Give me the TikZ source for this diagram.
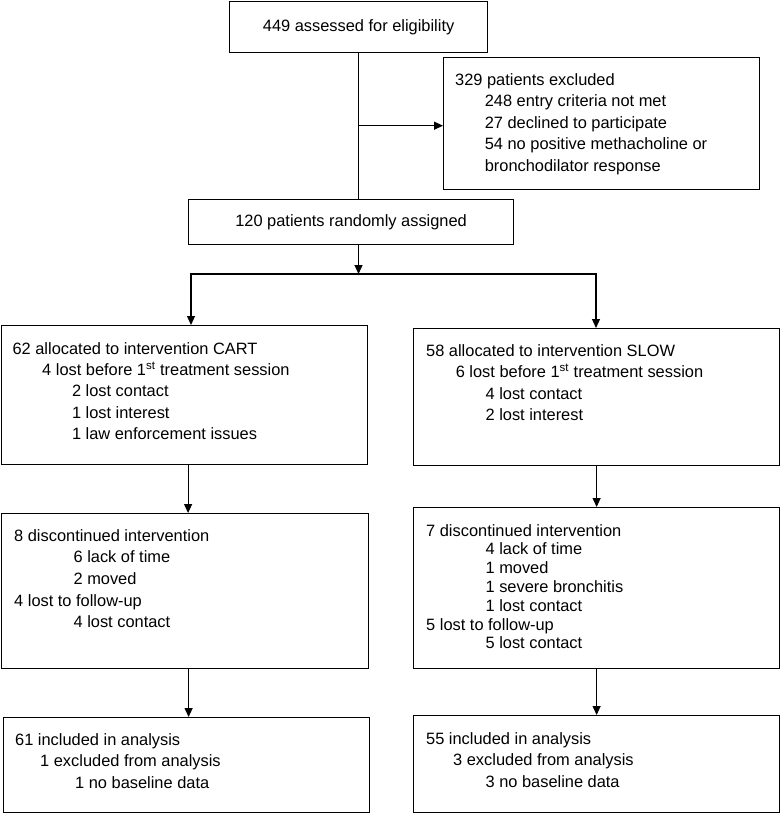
\documentclass[tikz,border=0pt]{standalone}
\usepackage{fontspec}
\setmainfont{Liberation Sans}
\usetikzlibrary{arrows.meta}

\newcommand{\indone}{\hspace*{29.6pt}}
\newcommand{\indtwo}{\hspace*{59.4pt}}

\begin{document}
\begin{tikzpicture}[x=1pt, y=-1pt,
  box/.style={rectangle, draw, line width=1.2pt, inner sep=0pt, anchor=north west,
    font=\fontsize{16.4}{21.5}\selectfont},
  txt/.style={anchor=north west, inner sep=0pt, align=left,
    font=\fontsize{16.4}{21.5}\selectfont},
  arr/.style={line width=1.2pt, -{Triangle[length=9pt, width=8pt]}},
  arrboth/.style={line width=1.2pt, {Triangle[length=9pt, width=8pt]}-{Triangle[length=9pt, width=8pt]}},
  lin/.style={line width=1.2pt}]
  \useasboundingbox (0,0) rectangle (780,813);

  % boxes
  \node[box, minimum width=258pt, minimum height=51pt] (assess) at (229,0.8) {449 assessed for eligibility};
  \node[box, minimum width=316pt, minimum height=132pt] (excl) at (443,57) {};
  \node[box, minimum width=325pt, minimum height=45pt] (rand) at (188,199) {120 patients randomly assigned};
  \node[box, minimum width=366pt, minimum height=139pt] (cart) at (1,325) {};
  \node[box, minimum width=366pt, minimum height=137pt] (slow) at (413,328) {};
  \node[box, minimum width=367pt, minimum height=155pt] (cartdisc) at (1,513) {};
  \node[box, minimum width=366pt, minimum height=161pt] (slowdisc) at (413,507) {};
  \node[box, minimum width=366pt, minimum height=95pt] (cartana) at (3,717) {};
  \node[box, minimum width=366pt, minimum height=97pt] (slowana) at (413,715) {};

  % box texts
  \node[txt] (excltext) at (455,73.3) {329 patients excluded\\
    \indone 248 entry criteria not met\\
    \indone 27 declined to participate\\
    \indone 54 no positive methacholine or\\
    \indone bronchodilator response};
  \node[txt, font=\fontsize{16.4}{21.3}\selectfont] (carttext) at (12.4,342.3) {62 allocated to intervention CART\\
    \indone 4 lost before 1\textsuperscript{st} treatment session\\
    \indtwo 2 lost contact\\
    \indtwo 1 lost interest\\
    \indtwo 1 law enforcement issues};
  \node[txt] (slowtext) at (426,344) {58 allocated to intervention SLOW\\
    \indone 6 lost before 1\textsuperscript{st} treatment session\\
    \indtwo 4 lost contact\\
    \indtwo 2 lost interest};
  \node[txt, font=\fontsize{16.4}{21.7}\selectfont] (cartdisctext) at (14,529) {8 discontinued intervention\\
    \indtwo 6 lack of time\\
    \indtwo 2 moved\\
    4 lost to follow-up\\
    \indtwo 4 lost contact};
  \node[txt, font=\fontsize{16.4}{18.8}\selectfont] (slowdisctext) at (426,524) {7 discontinued intervention\\
    \indtwo 4 lack of time\\
    \indtwo 1 moved\\
    \indtwo 1 severe bronchitis\\
    \indtwo 1 lost contact\\
    5 lost to follow-up\\
    \indtwo 5 lost contact};
  \node[txt, font=\fontsize{16.4}{21.8}\selectfont] (cartanatext) at (15,733) {61 included in analysis\\
    \hspace*{25pt}1 excluded from analysis\\
    \hspace*{60pt}1 no baseline data};
  \node[txt, font=\fontsize{16.4}{21.8}\selectfont] (slowanatext) at (426,732) {55 included in analysis\\
    \hspace*{27pt}3 excluded from analysis\\
    \indtwo 3 no baseline data};

  % connectors
  \coordinate (exclturn) at (358.5,125.7);
  \coordinate (split) at (358.5,274);
  \coordinate (splitL) at (191,274);
  \coordinate (splitR) at (596,274);
  \draw[lin] (assess.south -| exclturn) -- (rand.north -| exclturn);
  \draw[arr] (exclturn) -- (exclturn -| excl.west);
  \draw[arr] (rand.south -| split) -- (split);
  \draw[arrboth] (splitL |- cart.north) -- (splitL) -- (splitR) -- (splitR |- slow.north);
  \draw[arr] ([xshift=3.5pt]cart.south) -- ([xshift=3.5pt]cart.south |- cartdisc.north);
  \draw[arr] (slow.south) -- (slow.south |- slowdisc.north);
  \draw[arr] ([xshift=3.5pt]cartdisc.south) -- ([xshift=3.5pt]cartdisc.south |- cartana.north);
  \draw[arr] (slowdisc.south) -- (slowdisc.south |- slowana.north);
\end{tikzpicture}
\end{document}
